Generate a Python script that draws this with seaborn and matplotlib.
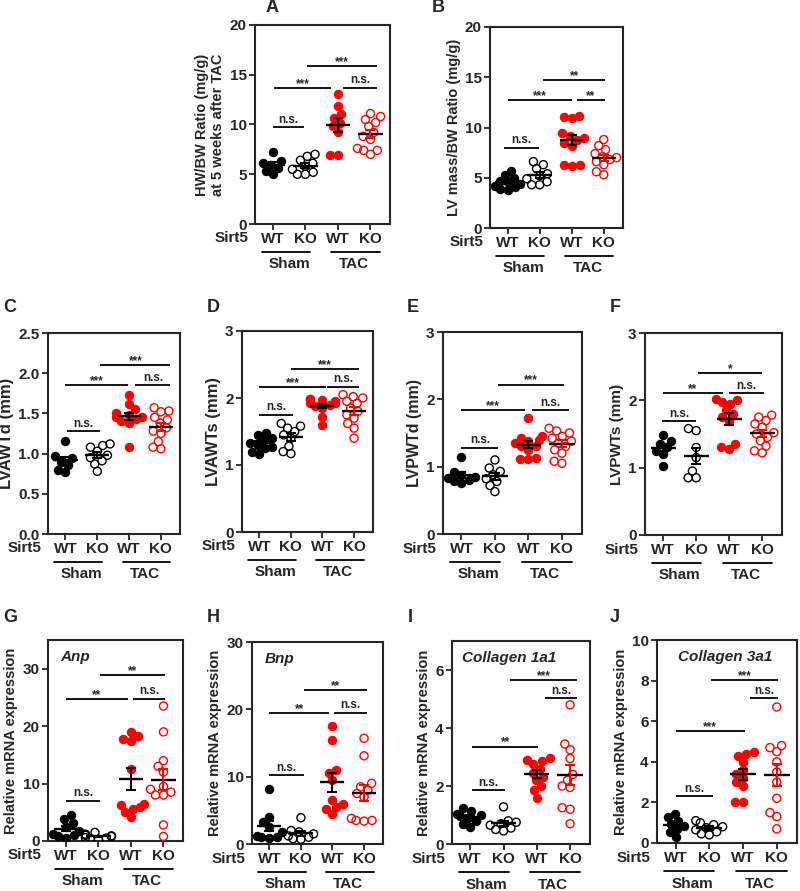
import numpy as np
import pandas as pd
import matplotlib
matplotlib.use("Agg")
import matplotlib.pyplot as plt
import seaborn as sns

groups = ["WT Sham", "KO Sham", "WT TAC", "KO TAC"]
tick_labels = ["WT", "KO", "WT", "KO"]
group_colors = ["black", "black", "red", "red"]
group_hollow = [False, True, False, True]

# valori (WT Sham, KO Sham, WT TAC, KO TAC)
a_vals = [[7.2, 6.3, 6.1, 5.9, 5.6, 5.3, 5.0],
          [7.0, 6.8, 6.4, 6.1, 5.8, 5.5, 5.2, 5.0, 5.0],
          [13.1, 11.9, 11.1, 10.7, 10.2, 9.8, 9.2, 6.9, 6.9],
          [11.1, 10.8, 10.5, 10.2, 9.8, 9.2, 8.8, 8.5, 7.6, 7.4, 7.4, 7.0]]
b_vals = [[5.7, 5.3, 5.0, 4.7, 4.6, 4.4, 4.2, 4.1, 3.9, 3.8],
          [6.6, 6.3, 5.9, 5.4, 5.2, 4.9, 4.6, 4.3, 4.3],
          [11.1, 11.0, 10.9, 9.5, 9.2, 9.0, 8.8, 8.5, 8.2, 6.3, 6.3, 6.2],
          [8.8, 8.2, 7.8, 7.4, 7.1, 7.0, 6.8, 6.6, 6.3, 5.6, 5.3]]
c_vals = [[1.16, 0.97, 0.94, 0.90, 0.86, 0.80, 0.77],
          [1.12, 1.10, 1.08, 1.03, 0.98, 0.95, 0.91, 0.87, 0.78],
          [1.73, 1.62, 1.55, 1.50, 1.48, 1.46, 1.45, 1.43, 1.40, 1.38, 1.08],
          [1.57, 1.53, 1.52, 1.45, 1.42, 1.38, 1.32, 1.28, 1.25, 1.15, 1.08, 1.06]]
d_vals = [[1.48, 1.45, 1.40, 1.37, 1.33, 1.30, 1.27, 1.25, 1.20, 1.17],
          [1.62, 1.58, 1.55, 1.50, 1.45, 1.40, 1.28, 1.20, 1.17],
          [1.99, 1.98, 1.97, 1.95, 1.93, 1.92, 1.90, 1.88, 1.85, 1.72, 1.60],
          [2.05, 2.02, 2.00, 1.95, 1.92, 1.85, 1.80, 1.75, 1.70, 1.62, 1.55, 1.40]]
e_vals = [[1.15, 0.92, 0.88, 0.85, 0.83, 0.80, 0.78, 0.76],
          [1.10, 0.98, 0.93, 0.88, 0.82, 0.78, 0.72, 0.63],
          [1.72, 1.45, 1.42, 1.40, 1.38, 1.35, 1.30, 1.30, 1.25, 1.13, 1.12, 1.12],
          [1.57, 1.53, 1.50, 1.45, 1.42, 1.38, 1.35, 1.30, 1.25, 1.20, 1.08, 1.05]]
f_vals = [[1.48, 1.40, 1.35, 1.30, 1.25, 1.20, 1.02],
          [1.58, 1.55, 1.30, 1.15, 0.95, 0.85, 0.85],
          [2.02, 2.00, 1.98, 1.95, 1.85, 1.80, 1.75, 1.70, 1.35, 1.30, 1.28],
          [1.78, 1.75, 1.70, 1.65, 1.60, 1.52, 1.50, 1.45, 1.40, 1.32, 1.25, 1.22]]
g_vals = [[4.5, 3.8, 3.2, 2.5, 1.8, 1.2, 1.0, 0.8, 0.6],
          [1.5, 1.2, 1.0, 0.9, 0.8, 0.6, 0.5, 0.4, 0.3],
          [19.0, 18.2, 17.8, 17.5, 12.5, 6.5, 6.2, 6.0, 5.5, 5.0, 4.2],
          [23.5, 19.0, 14.0, 13.0, 12.0, 9.5, 9.0, 8.5, 8.0, 8.0, 2.8, 0.8]]
h_vals = [[8.2, 4.0, 3.2, 2.5, 1.8, 1.2, 1.0, 1.0, 0.9],
          [3.9, 2.0, 1.8, 1.5, 1.2, 1.0, 0.8, 0.7],
          [17.5, 15.5, 11.0, 10.5, 9.5, 6.5, 6.0, 5.5, 5.2, 4.5],
          [15.7, 13.1, 9.0, 8.5, 8.0, 7.5, 7.0, 3.8, 3.5, 3.4, 3.5]]
i_vals = [[1.25, 1.15, 1.05, 1.0, 0.95, 0.9, 0.8, 0.7, 0.6],
          [1.28, 0.8, 0.75, 0.7, 0.65, 0.55, 0.5, 0.45],
          [2.95, 2.9, 2.85, 2.75, 2.6, 2.45, 2.3, 2.2, 2.0, 1.85, 1.6],
          [4.8, 3.45, 3.25, 2.95, 2.4, 2.2, 2.0, 1.95, 1.25, 1.2, 0.7]]
j_vals = [[1.45, 1.3, 1.1, 0.95, 0.85, 0.7, 0.55, 0.3],
          [1.1, 1.0, 0.9, 0.8, 0.75, 0.65, 0.55, 0.45, 0.4],
          [4.5, 4.4, 4.3, 4.0, 3.6, 3.4, 3.2, 3.0, 2.8, 2.0, 2.0],
          [6.7, 4.8, 4.7, 4.5, 4.0, 3.5, 3.0, 2.2, 1.5, 1.3, 0.7]]

# semnificatii: (x1, x2, y, text)
a_sig = [(0, 0.95, 9.7, "n.s."), (0.03, 1.8, 13.7, "***"), (2.15, 3.2, 13.7, "n.s."), (1.05, 3.2, 15.9, "***")]
b_sig = [(-0.1, 0.98, 8.0, "n.s."), (0, 2.02, 12.7, "***"), (2.15, 3.05, 12.7, "**"), (1.1, 3.05, 14.7, "**")]
c_sig = [(0.05, 1.1, 1.28, "n.s."), (0, 1.95, 1.85, "***"), (2.2, 3.3, 1.85, "n.s."), (1.1, 3.3, 2.10, "***")]
d_sig = [(0, 1.07, 1.75, "n.s."), (0, 2.1, 2.17, "***"), (2.15, 3.15, 2.17, "n.s."), (1.0, 3.15, 2.43, "***")]
e_sig = [(0, 1.1, 1.28, "n.s."), (0, 1.9, 1.84, "***"), (2.1, 3.2, 1.84, "n.s."), (1.1, 3.05, 2.22, "***")]
f_sig = [(-0.05, 1.0, 1.69, "n.s."), (0, 1.8, 2.11, "**"), (2.0, 3.05, 2.11, "n.s."), (1.05, 3.0, 2.40, "*")]
g_sig = [(0, 1.05, 7.0, "n.s."), (0, 1.9, 24.8, "**"), (2.05, 3.05, 24.8, "n.s."), (1.05, 3.05, 28.9, "**")]
h_sig = [(0, 1.1, 10.2, "n.s."), (0, 1.9, 19.5, "**"), (2.05, 3.1, 19.5, "n.s."), (1.1, 3.1, 22.9, "**")]
i_sig = [(0.05, 1.05, 1.86, "n.s."), (0.05, 2.05, 3.36, "**"), (2.25, 3.2, 5.02, "n.s."), (1.2, 3.2, 5.66, "***")]
j_sig = [(0, 1.1, 2.30, "n.s."), (0, 2.05, 5.53, "***"), (2.2, 3.05, 7.12, "n.s."), (1.05, 3.05, 8.03, "***")]

sns.set_style("ticks")
plt.rcParams["font.family"] = ["Liberation Sans", "DejaVu Sans"]
plt.rcParams["font.weight"] = "bold"
plt.rcParams["axes.labelweight"] = "bold"

W, H = 800, 891
fig = plt.figure(figsize=(W / 100, H / 100), dpi=100)
swarm_colls = []


def px_rect(l, r, t, b):
    return [l / W, 1 - b / H, (r - l) / W, (b - t) / H]


def draw_panel(ax, values, sig, ylabel, ylim, yticks, fmt, ylab_size, gene=None, gene_off=12):
    for i, vals in enumerate(values):
        col = group_colors[i]
        df = pd.DataFrame({"group": groups[i], "value": vals})
        n_before = len(ax.collections)
        sns.swarmplot(data=df, x="group", y="value", order=groups, color=col,
                      edgecolor=col, linewidth=1.0, size=4.5, ax=ax,
                      warn_thresh=1, zorder=3)
        for coll in ax.collections[n_before:]:
            swarm_colls.append(coll)
            if group_hollow[i]:
                coll.set_facecolor("none")
        m = np.mean(vals)
        se = np.std(vals, ddof=1) / np.sqrt(len(vals))
        ax.hlines(m, i - 0.38, i + 0.38, color="black", lw=1.7, zorder=5)
        ax.errorbar(i, m, yerr=se, fmt="none", ecolor=("red" if i == 3 else "black"),
                    elinewidth=1.5, capsize=3.8, capthick=1.5, zorder=5)

    for x1, x2, y, txt in sig:
        ax.plot([x1, x2], [y, y], color="black", lw=1.3, solid_capstyle="butt")
        dy = 1.0 if txt == "n.s." else -1.5
        ax.annotate(txt, xy=((x1 + x2) / 2, y), xytext=(0, dy), textcoords="offset points",
                    ha="center", va="bottom", fontsize=8.5)

    ax.set_xlim(-0.55, 3.6)
    ax.set_ylim(*ylim)
    ax.set_yticks(yticks)
    ax.set_yticklabels([fmt.format(t) for t in yticks])
    ax.set_xticks(range(4))
    ax.set_xticklabels(tick_labels)
    ax.set_xlabel("")
    ax.set_ylabel(ylabel, fontsize=ylab_size, fontweight="bold", labelpad=3)
    ax.tick_params(axis="both", labelsize=11, width=1.3, length=4, pad=2)
    for sp in ax.spines.values():
        sp.set_linewidth(1.5)
        sp.set_visible(True)

    trans = ax.get_xaxis_transform()
    for (a, b), name, cx in [((-0.35, 1.15), "Sham", 0.5), ((1.8, 3.3), "TAC", 2.5)]:
        ax.plot([a, b], [-0.14, -0.14], transform=trans, clip_on=False, color="black", lw=1.3)
        ax.text(cx, -0.2, name, transform=trans, ha="center", va="center", fontsize=11)
    ax.text(-0.05, -0.072, "Sirt5", transform=ax.transAxes, ha="right", va="center", fontsize=11)

    if gene:
        ax.annotate(gene, xy=(0, 1), xycoords="axes fraction", xytext=(gene_off, -12),
                    textcoords="offset points", ha="left", va="center",
                    fontsize=11, fontstyle="italic", fontweight="bold")


panels = [
    ("A", (272, 8), px_rect(255, 390, 25, 224), a_vals, a_sig,
     "HW/BW Ratio (mg/g)\nat 5 weeks after TAC", (0, 20), [0, 5, 10, 15, 20], "{:g}", 10.5, None, 0),
    ("B", (438, 8), px_rect(490, 623, 27, 228), b_vals, b_sig,
     "LV mass/BW Ratio (mg/g)", (0, 20), [0, 5, 10, 15, 20], "{:g}", 10.5, None, 0),
    ("C", (10, 308), px_rect(48, 180, 333, 534), c_vals, c_sig,
     "LVAWTd (mm)", (0, 2.5), [0, 0.5, 1.0, 1.5, 2.0, 2.5], "{:.1f}", 12, None, 0),
    ("D", (213, 308), px_rect(242, 373, 331, 532), d_vals, d_sig,
     "LVAWTs (mm)", (0, 3), [0, 1, 2, 3], "{:g}", 12, None, 0),
    ("E", (413, 308), px_rect(443, 582, 332, 534), e_vals, e_sig,
     "LVPWTd (mm)", (0, 3), [0, 1, 2, 3], "{:g}", 11.5, None, 0),
    ("F", (615, 308), px_rect(645, 782, 333, 535), f_vals, f_sig,
     "LVPWTs (mm)", (0, 3), [0, 1, 2, 3], "{:g}", 11, None, 0),
    ("G", (10, 617), px_rect(48, 183, 640, 841), g_vals, g_sig,
     "Relative mRNA expression", (0, 35), [0, 10, 20, 30], "{:g}", 10.5, "Anp", 9),
    ("H", (213, 617), px_rect(252, 383, 642, 844), h_vals, h_sig,
     "Relative mRNA expression", (0, 30), [0, 10, 20, 30], "{:g}", 10.5, "Bnp", 9),
    ("I", (410, 617), px_rect(452, 590, 641, 844), i_vals, i_sig,
     "Relative mRNA expression", (0, 7), [0, 2, 4, 6], "{:g}", 10.5, "Collagen 1a1", 7),
    ("J", (615, 617), px_rect(657, 797, 640, 843), j_vals, j_sig,
     "Relative mRNA expression", (0, 10), [0, 2, 4, 6, 8, 10], "{:g}", 10.5, "Collagen 3a1", 15),
]

for letter, (lx, ly), rect, vals, sig, ylab, ylim, yt, fmt, ysz, gene, goff in panels:
    ax = fig.add_axes(rect)
    draw_panel(ax, vals, sig, ylab, ylim, yt, fmt, ysz, gene, goff)
    fig.text(lx / W, 1 - ly / H, letter, ha="center", va="center", fontsize=13, fontweight="bold")

# swarm-ul se calculeaza la desenare: il fixam cu puncte mici, apoi marim punctele
# ca sa se suprapuna ca in GraphPad
fig.canvas.draw()
for coll in swarm_colls:
    if "draw" in coll.__dict__:
        del coll.draw
    coll.set_sizes([5.8 ** 2])

fig.savefig("out.png", dpi=100)
